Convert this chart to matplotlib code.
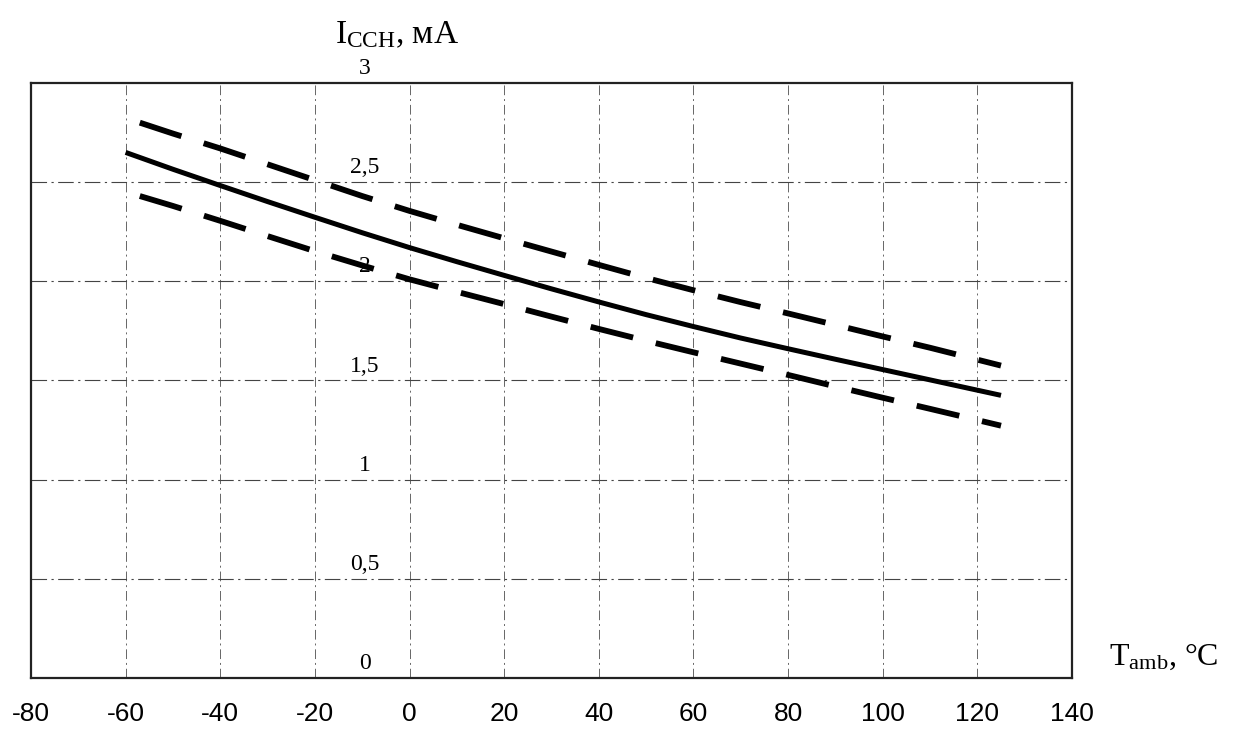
import matplotlib
matplotlib.use("Agg")
import matplotlib.pyplot as plt
import numpy as np

# ---- data ----
temps_typ = [-60, -50, -40, -30, -20, -10, 0, 10, 20, 30, 40, 50, 60, 70, 80, 90, 100, 110, 125]
i_typ = [2.65, 2.565, 2.483, 2.402, 2.323, 2.245, 2.170, 2.099, 2.030, 1.962, 1.896,
         1.832, 1.772, 1.714, 1.660, 1.607, 1.555, 1.503, 1.425]
temps_lim = [-57, -50, -40, -30, -20, -10, 0, 10, 20, 30, 40, 50, 60, 70, 80, 90, 100, 110, 125]
i_max = [2.80, 2.745, 2.67, 2.59, 2.51, 2.43, 2.355, 2.285, 2.217, 2.15, 2.083,
         2.017, 1.955, 1.895, 1.838, 1.78, 1.722, 1.665, 1.575]
i_min = [2.43, 2.38, 2.305, 2.228, 2.152, 2.08, 2.01, 1.947, 1.885, 1.822, 1.76,
         1.70, 1.642, 1.585, 1.528, 1.47, 1.413, 1.357, 1.272]
x_ticks = [-80, -60, -40, -20, 0, 20, 40, 60, 80, 100, 120, 140]
y_ticks = [0, 0.5, 1, 1.5, 2, 2.5, 3]
y_labels = ["0", "0,5", "1", "1,5", "2", "2,5", "3"]

plt.rcParams['mathtext.fontset'] = 'custom'
plt.rcParams['mathtext.rm'] = 'Liberation Serif'
plt.rcParams['mathtext.it'] = 'Liberation Serif:italic'

fig = plt.figure(figsize=(12.34, 7.37), dpi=100)
ax = fig.add_axes([0.0251, 0.0801, 0.8436, 0.8073])
ax.set_xlim(-80, 140)
ax.set_ylim(0, 3)

# grid (dash-dot, thin)
for xv in x_ticks[1:-1]:
    ax.axvline(xv, color='#666666', lw=0.7, ls=(0, (10, 4, 2, 4)), zorder=1)
for yv in y_ticks[1:-1]:
    ax.axhline(yv, color='#444444', lw=0.8, ls=(0, (14, 4, 2, 4)), zorder=1)

# curves
ax.plot(temps_typ, i_typ, color='black', lw=3.6, solid_capstyle='butt', zorder=3)
for ys in (i_max, i_min):
    ax.plot(temps_lim, ys, color='black', lw=4.2, ls=(0, (7.5, 4.0)),
            dash_capstyle='butt', zorder=3)

# spines
for s in ax.spines.values():
    s.set_color('#222222')
    s.set_linewidth(1.6)

ax.set_xticks(x_ticks)
ax.set_xticklabels([str(v) for v in x_ticks], family='Liberation Sans', fontsize=19)
ax.tick_params(axis='x', length=0, pad=17)
ax.set_yticks([])

# y value labels inside the plot near x=0
for yv, lab in zip(y_ticks, y_labels):
    ax.text(-9.5, yv + 0.02, lab, ha='center', va='bottom',
            family='Liberation Serif', fontsize=17, zorder=4)

# axis titles
fig.text(397 / 1234, 1 - 35 / 737, r'$\mathregular{I_{CCH}}$, мА', ha='center', va='center',
         family='Liberation Serif', fontsize=24)
fig.text(1164 / 1234, 1 - 657 / 737, r'$\mathregular{T_{amb}}$, °C', ha='center', va='center',
         family='Liberation Serif', fontsize=23)

fig.savefig('out.png', dpi=100, facecolor='white')
